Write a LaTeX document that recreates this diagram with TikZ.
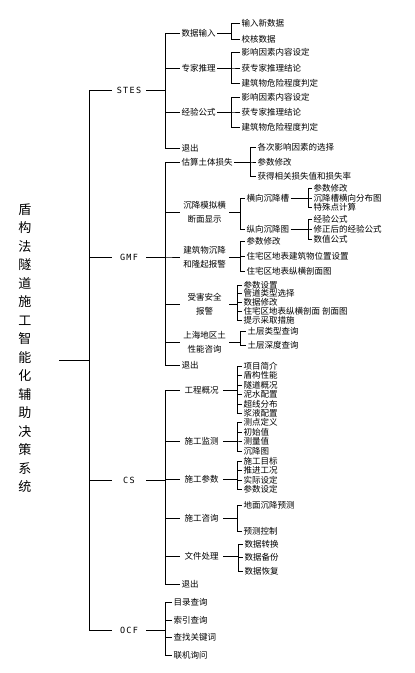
\documentclass[tikz,border=0pt]{standalone}
\usepackage{fontspec}
\setmainfont{Noto Sans CJK SC}
\newfontfamily\sysfont[LetterSpace=15]{DejaVu Sans Mono}
\usetikzlibrary{positioning}

% parent -> bar -> children
\newcommand{\branch}[3]{%
  \foreach \k in {#3} \draw[link] (#1.east) -| ([xshift=-#2pt]\k.west) -- (\k.west);}

\begin{document}
\begin{tikzpicture}[x=1pt, y=-1pt,
    link/.style={line width=0.8pt},
    leaf/.style={anchor=west, inner sep=1.5pt, font=\fontsize{8.5}{10}\selectfont},
    sys/.style={minimum width=34pt, inner sep=1pt, font=\sysfont\fontsize{8.5}{10}\selectfont},
    box/.style={leaf, text width=46pt, align=center, font=\fontsize{8.5}{14}\selectfont},
    mid/.style={leaf, text width=40pt, align=center}]
    \useasboundingbox (0,0) rectangle (415,673);

    % Title
    \node[font=\fontsize{13}{18.5}\selectfont, align=center] (title) at (25,348)
        {盾\\构\\法\\隧\\道\\施\\工\\智\\能\\化\\辅\\助\\决\\策\\系\\统};
    \coordinate (rootend) at (59,360);

    % Subsystems
    \node[sys] (stes) at (129,90) {STES};
    \node[sys] (gmf) at (129,257) {GMF};
    \node[sys] (cs) at (129,480) {CS};
    \node[sys] (ocf) at (129,630) {OCF};
    \foreach \k in {stes,gmf,cs,ocf}
        \draw[link] (rootend) -| ([xshift=-22pt]\k.west) -- (\k.west);

    % STES
    \node[leaf] (sjsr) at (180,33) {数据输入};
    \node[leaf] (zjtl) at (180,68) {专家推理};
    \node[leaf] (jygs) at (180,112) {经验公式};
    \node[leaf] (tc1) at (180,148) {退出};
    \branch{stes}{15}{sjsr,zjtl,jygs,tc1}

    \node[leaf] (sr1) at (240,23) {输入新数据};
    \node[leaf] (sr2) at (240,39) {校核数据};
    \branch{sjsr}{9}{sr1,sr2}

    \node[leaf] (zj1) at (240,52) {影响因素内容设定};
    \node[leaf] (zj2) at (240,68) {获专家推理结论};
    \node[leaf] (zj3) at (240,83) {建筑物危险程度判定};
    \branch{zjtl}{9}{zj1,zj2,zj3}

    \node[leaf] (jy1) at (240,97) {影响因素内容设定};
    \node[leaf] (jy2) at (240,112) {获专家推理结论};
    \node[leaf] (jy3) at (240,127) {建筑物危险程度判定};
    \branch{jygs}{9}{jy1,jy2,jy3}

    % GMF
    \node[leaf] (gstt) at (180,162) {估算土体损失};
    \node[box] (cjmn) at (180,212) {沉降模拟横\\断面显示};
    \node[box] (jzbj) at (180,257) {建筑物沉降\\和隆起报警};
    \node[box] (shaq) at (180,304) {受害安全\\报警};
    \node[box] (shtx) at (180,342) {上海地区土\\性能咨询};
    \node[leaf] (tc2) at (180,365) {退出};
    \branch{gmf}{15}{gstt,cjmn,jzbj,shaq,shtx,tc2}

    \node[leaf] (gs1) at (256,147) {各次影响因素的选择};
    \node[leaf] (gs2) at (256,162) {参数修改};
    \node[leaf] (gs3) at (256,176) {获得相关损失值和损失率};
    \branch{gstt}{6}{gs1,gs2,gs3}

    \node[leaf] (hxcj) at (245,198) {横向沉降槽};
    \node[leaf] (zxcj) at (245,229) {纵向沉降图};
    \branch{cjmn}{5}{hxcj,zxcj}

    \node[leaf] (hx1) at (312,188) {参数修改};
    \node[leaf] (hx2) at (312,198) {沉降槽横向分布图};
    \node[leaf] (hx3) at (312,207) {特殊点计算};
    \branch{hxcj}{4}{hx1,hx2,hx3}

    \node[leaf] (zx1) at (312,219) {经验公式};
    \node[leaf] (zx2) at (312,229) {修正后的经验公式};
    \node[leaf] (zx3) at (312,239) {数值公式};
    \branch{zxcj}{4}{zx1,zx2,zx3}

    \node[leaf] (jz1) at (245,241) {参数修改};
    \node[leaf] (jz2) at (245,256) {住宅区地表建筑物位置设置};
    \node[leaf] (jz3) at (245,271) {住宅区地表纵横剖面图};
    \branch{jzbj}{5}{jz1,jz2,jz3}

    \node[leaf] (sh1) at (242,285) {参数设置};
    \node[leaf] (sh2) at (242,293.5) {管道类型选择};
    \node[leaf] (sh3) at (242,302) {数据修改};
    \node[leaf] (sh4) at (242,311) {住宅区地表纵横剖面 剖面图};
    \node[leaf] (sh5) at (242,320) {提示采取措施};
    \branch{shaq}{5}{sh1,sh2,sh3,sh4,sh5}

    \node[leaf] (tx1) at (246,331) {土层类型查询};
    \node[leaf] (tx2) at (246,345) {土层深度查询};
    \branch{shtx}{6}{tx1,tx2}

    % CS
    \node[mid] (gcgk) at (180,390) {工程概况};
    \node[mid] (sgjc) at (180,441) {施工监测};
    \node[mid] (sgcs) at (180,479) {施工参数};
    \node[mid] (sgzx) at (180,518) {施工咨询};
    \node[mid] (wjcl) at (180,556) {文件处理};
    \node[leaf] (tc3) at (180,584) {退出};
    \branch{cs}{15}{gcgk,sgjc,sgcs,sgzx,wjcl,tc3}

    \node[leaf] (gc1) at (242,366) {项目简介};
    \node[leaf] (gc2) at (242,375.5) {盾构性能};
    \node[leaf] (gc3) at (242,385) {隧道概况};
    \node[leaf] (gc4) at (242,394.5) {泥水配置};
    \node[leaf] (gc5) at (242,404) {超线分布};
    \node[leaf] (gc6) at (242,413) {浆液配置};
    \branch{gcgk}{5}{gc1,gc2,gc3,gc4,gc5,gc6}

    \node[leaf] (jc1) at (242,422) {测点定义};
    \node[leaf] (jc2) at (242,432) {初始值};
    \node[leaf] (jc3) at (242,441) {测量值};
    \node[leaf] (jc4) at (242,451) {沉降图};
    \branch{sgjc}{5}{jc1,jc2,jc3,jc4}

    \node[leaf] (cs1) at (242,461) {施工目标};
    \node[leaf] (cs2) at (242,470.5) {推进工况};
    \node[leaf] (cs3) at (242,480) {实际设定};
    \node[leaf] (cs4) at (242,489.5) {参数设定};
    \branch{sgcs}{5}{cs1,cs2,cs3,cs4}

    \node[leaf] (zx4) at (242,505) {地面沉降预测};
    \node[leaf] (zx5) at (242,531) {预测控制};
    \branch{sgzx}{5}{zx4,zx5}

    \node[leaf] (wj1) at (243,544) {数据转换};
    \node[leaf] (wj2) at (243,557.5) {数据备份};
    \node[leaf] (wj3) at (243,571) {数据恢复};
    \branch{wjcl}{5}{wj1,wj2,wj3}

    % OCF
    \node[leaf] (oc1) at (172,602) {目录查询};
    \node[leaf] (oc2) at (172,620) {索引查询};
    \node[leaf] (oc3) at (172,637) {查找关键词};
    \node[leaf] (oc4) at (172,655) {联机询问};
    \branch{ocf}{7}{oc1,oc2,oc3,oc4}
\end{tikzpicture}
\end{document}
